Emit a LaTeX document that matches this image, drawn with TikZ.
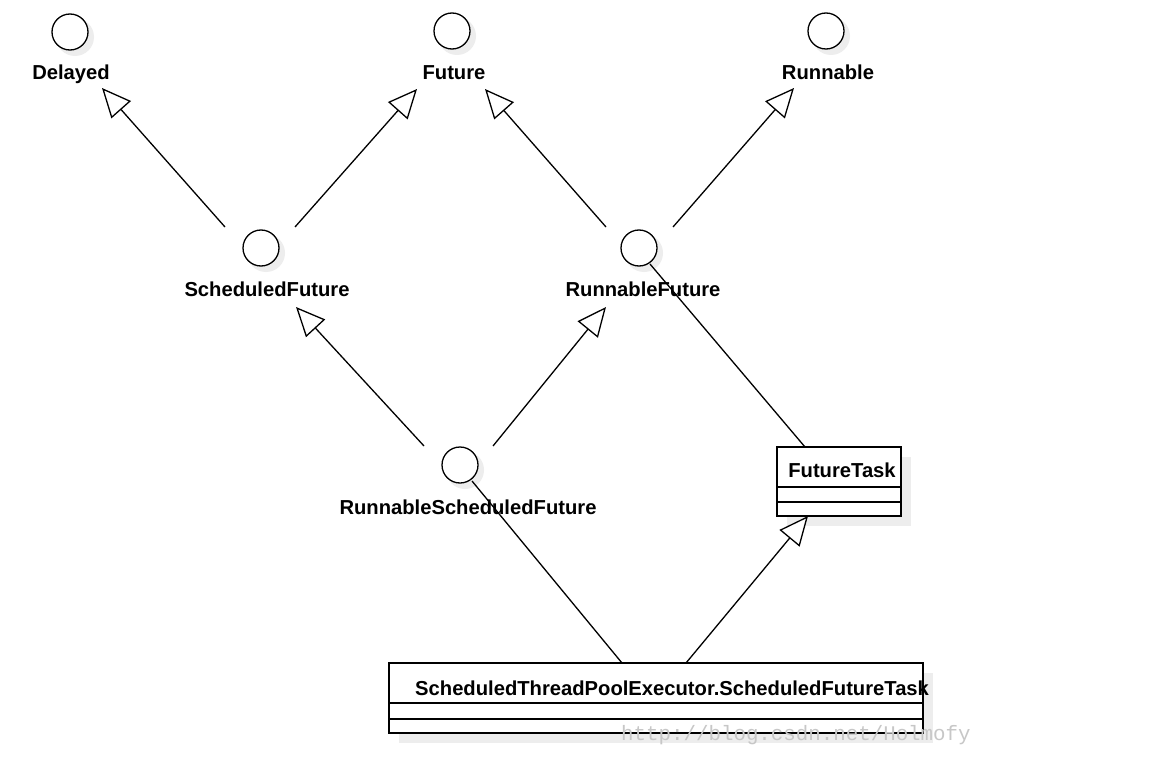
\documentclass[tikz,border=0pt]{standalone}
\usepackage{fontspec}
\setmainfont{Liberation Sans}
\newfontfamily\wmfont{Liberation Mono}
\usetikzlibrary{arrows.meta}
\begin{document}
\begin{tikzpicture}[x=1pt,y=-1pt,
  iface/.style={circle,draw,line width=1.3pt,fill=white,minimum size=36pt,inner sep=0pt},
  ishadow/.style={circle,fill=black!7,minimum size=38pt,inner sep=0pt},
  lbl/.style={font=\fontsize{20.2}{23}\selectfont\bfseries,inner sep=0pt,anchor=base},
  conn/.style={line width=1.3pt},
  inh/.style={conn,-{Triangle[open,length=29pt,width=26pt,fill=white]}},
  cls/.style={draw,line width=1.3pt,fill=white,inner sep=0pt},
  cshadow/.style={fill=black!7,inner sep=0pt},
  ]
\useasboundingbox (0,0) rectangle (1175,781);
\fill[white] (0,0) rectangle (1175,781);

% shadows
\foreach \x/\y in {70/32, 452/31, 826/31, 261/248, 639/248, 460/465}
  \node[ishadow] at (\x+5,\y+5) {};
\node[cshadow,minimum width=124pt,minimum height=69pt] at (849,491.5) {};
\node[cshadow,minimum width=534pt,minimum height=70pt] at (666,708) {};

% interfaces
\node[iface] (cDelayed) at (70,32) {};
\node[iface] (cFuture) at (452,31) {};
\node[iface] (cRunnable) at (826,31) {};
\node[iface] (cSF) at (261,248) {};
\node[iface] (cRF) at (639,248) {};
\node[iface] (cRSF) at (460,465) {};

\node[lbl] (lDelayed) at (71,80) {Delayed};
\node[lbl] (lFuture) at (454,80) {Future};
\node[lbl] (lRunnable) at (828,80) {Runnable};
\node[lbl] (lSF) at (267,296) {ScheduledFuture};
\node[lbl] (lRF) at (643,296) {RunnableFuture};
\node[lbl] (lRSF) at (468,514) {RunnableScheduledFuture};

% classes
\node[cls,minimum width=124pt,minimum height=69pt] (ft) at (839,481.5) {};
\draw[conn] (777,487) -- (901,487);
\draw[conn] (777,502) -- (901,502);
\node[lbl] (ftName) at (842,477) {FutureTask};

\node[cls,minimum width=534pt,minimum height=70pt] (sft) at (656,698) {};
\draw[conn] (389,703) -- (923,703);
\draw[conn] (389,719) -- (923,719);
\node[lbl,anchor=base west] (sftName) at (415,695) {ScheduledThreadPoolExecutor.ScheduledFutureTask};

% connector end points
\coordinate (a1s) at (225,227); \coordinate (a1t) at (102,88);
\coordinate (a2s) at (295,227); \coordinate (a2t) at (417,89);
\coordinate (a3s) at (606,227); \coordinate (a3t) at (485,89);
\coordinate (a4s) at (673,227); \coordinate (a4t) at (794,88);
\coordinate (a5s) at (424,446); \coordinate (a5t) at (296,307);
\coordinate (a6s) at (493,446); \coordinate (a6t) at (606,307);
\coordinate (l7s) at (650,264); \coordinate (l7t) at (805,447);
\coordinate (l8s) at (472,481); \coordinate (l8t) at (622,663);
\coordinate (a9s) at (686,663); \coordinate (a9t) at (808,516);

\draw[inh] (a1s) -- (a1t);
\draw[inh] (a2s) -- (a2t);
\draw[inh] (a3s) -- (a3t);
\draw[inh] (a4s) -- (a4t);
\draw[inh] (a5s) -- (a5t);
\draw[inh] (a6s) -- (a6t);
\draw[conn] (l7s) -- (l7t);
\draw[conn] (l8s) -- (l8t);
\draw[inh] (a9s) -- (a9t);

% watermark
\node[anchor=west,inner sep=0pt,text=black!22,font=\wmfont\fontsize{20.8}{22}\selectfont] (wm) at (621,735) {http://blog.csdn.net/Holmofy};
\end{tikzpicture}
\end{document}
